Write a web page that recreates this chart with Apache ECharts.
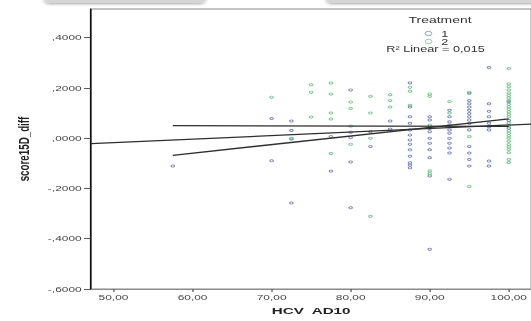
<!DOCTYPE html>
<html>
<head>
<meta charset="utf-8">
<script src="https://cdn.jsdelivr.net/npm/echarts@6/dist/echarts.min.js"></script>
<style>
html,body{margin:0;padding:0;background:#fff;width:531px;height:321px;overflow:hidden;}
#chart{width:342.6px;height:321px;transform:scaleX(1.55);transform-origin:0 0;}
</style>
</head>
<body>
<div id="chart"></div>
<script>
// ---- data ----
const xTicks = [50, 60, 70, 80, 90, 100];
const xTickLabels = ['50,00', '60,00', '70,00', '80,00', '90,00', '100,00'];
const yTicks = [-0.6, -0.4, -0.2, 0, 0.2, 0.4];
const yTickLabels = ['-,6000', '-,4000', '-,2000', ',0000', ',2000', ',4000'];

const group1X = [57.5, 70, 70, 72.5, 72.5, 72.5, 72.5, 77.5, 77.5, 80, 80, 80, 80, 80, 82.5, 82.5, 85, 85,
  87.5, 87.5, 87.5, 87.5, 87.5, 87.5, 87.5, 87.5, 87.5, 87.5, 87.5, 87.5, 87.5,
  90, 90, 90, 90, 90, 90, 90, 90, 90, 90,
  92.5, 92.5, 92.5, 92.5, 92.5, 92.5, 92.5, 92.5, 92.5, 92.5, 92.5,
  95, 95, 95, 95, 95, 95, 95, 95, 95, 95, 95, 95, 95, 95,
  97.5, 97.5, 97.5, 97.5, 97.5, 97.5, 97.5, 97.5, 97.5,
  100, 100, 100];
const group1Y = [-0.111, 0.078, -0.090, 0.068, 0.031, -0.003, -0.258, 0.007, -0.131, 0.192, 0.024, 0.003, -0.095, -0.277, 0.026, -0.033, 0.068, 0.036,
  0.22, 0.124, 0.085, 0.059, 0.033, 0.013, -0.007, -0.024, -0.046, -0.072, -0.098, -0.107, -0.118,
  0.085, 0.072, 0.039, 0.026, 0.0, -0.02, -0.046, -0.078, -0.15, -0.442,
  0.111, 0.085, 0.065, 0.052, 0.033, 0.02, 0.0, -0.02, -0.039, -0.059, -0.163,
  0.179, 0.15, 0.137, 0.124, 0.111, 0.098, 0.085, 0.072, 0.059, 0.033, -0.033, -0.059, -0.085, -0.111,
  0.281, 0.137, 0.107, 0.085, 0.059, 0.046, 0.033, -0.091, -0.111,
  0.145, 0.07, 0.04];

const group2X = [70, 72.5, 75, 75, 75, 77.5, 77.5, 77.5, 77.5, 77.5, 80, 80, 80, 80, 82.5, 82.5, 82.5, 82.5,
  85, 85, 85, 87.5, 87.5, 87.5, 90, 90, 90, 90, 90, 92.5, 92.5, 95, 95, 95,
  100, 100, 100, 100, 100, 100, 100, 100, 100, 100, 100, 100, 100, 100, 100, 100, 100, 100, 100, 100, 100, 100, 100, 100, 100, 100, 100];
const group2Y = [0.163, 0.0, 0.213, 0.183, 0.084, 0.22, 0.176, 0.10, 0.076, -0.061, 0.144, 0.118, 0.048, -0.024, 0.167, 0.10, 0.0, -0.311,
  0.173, 0.15, 0.124, 0.203, 0.187, 0.131, 0.176, 0.167, 0.052, -0.13, -0.141, 0.146, 0.10, 0.183, 0.007, -0.192,
  0.277, 0.216, 0.205, 0.192, 0.18, 0.17, 0.16, 0.15, 0.135, 0.125, 0.115, 0.105, 0.095, 0.085, 0.06, 0.05, 0.03, 0.02, 0.01, 0.0, -0.012, -0.025, -0.035, -0.045, -0.058, -0.085, -0.097];

// fit lines (end points)
const fitTotalX = [47.15, 102.85];
const fitTotalY = [-0.022, 0.0564];
const fitAX = [57.5, 100];
const fitAY = [0.05, 0.047];
const fitBX = [57.5, 100];
const fitBY = [-0.068, 0.077];

const seriesNames = ['1', '2'];
const legendTitle = 'Treatment';
const r2Text = 'R\u00b2 Linear = 0,015';
const xName = 'HCV  AD10';
const yName = 'score15D_diff';

// ---- build ----
const zip = (xs, ys) => xs.map((x, i) => [x, ys[i]]);
const lbl = (ticks, labels) => v => { const i = ticks.findIndex(t => Math.abs(t - v) < 1e-9); return i >= 0 ? labels[i] : ''; };
const blue = '#5565b0', green = '#4cba6c';
const ellipse = 'path://M0,5A5,5,0,1,1,10,5A5,5,0,1,1,0,5Z';
const font = 'Liberation Sans, Arial, sans-serif';

const chart = echarts.init(document.getElementById('chart'), null, {renderer: 'svg'});
const scatterStyle = c => ({color: 'transparent', borderColor: c, borderWidth: 0.75});
const lineSeries = (xs, ys) => ({
  type: 'line', data: zip(xs, ys), symbol: 'none', silent: true,
  lineStyle: {color: '#2e2e2e', width: 1.3}, z: 5, clip: true
});

chart.setOption({
  animation: false,
  backgroundColor: '#fff',
  grid: {left: 58.7, top: 9, width: 291, height: 284, show: true, borderColor: '#8a8a8a', borderWidth: 1},
  xAxis: {
    type: 'value', min: 47.15, max: 102.85,
    name: xName, nameLocation: 'middle', nameGap: 17,
    nameTextStyle: {fontFamily: font, fontWeight: 'bold', fontSize: 9.8, color: '#222'},
    axisLine: {show: true, onZero: false, lineStyle: {color: '#8a8a8a', width: 1}},
    axisTick: {show: true, inside: false, length: 3, customValues: xTicks, lineStyle: {color: '#555', width: 0.8}},
    axisLabel: {customValues: xTicks, formatter: lbl(xTicks, xTickLabels), margin: 4,
      fontFamily: font, fontSize: 7.7, color: '#444'},
    splitLine: {show: false}
  },
  yAxis: {
    type: 'value', min: -0.6, max: 0.514,
    name: yName, nameLocation: 'middle', nameGap: 37,
    nameTextStyle: {fontFamily: font, fontWeight: 'bold', fontSize: 9.8, color: '#222'},
    axisLine: {show: true, onZero: false, lineStyle: {color: '#111', width: 1}},
    axisTick: {show: true, inside: false, length: 4.5, customValues: yTicks, lineStyle: {color: '#333', width: 0.8}},
    axisLabel: {customValues: yTicks, formatter: lbl(yTicks, yTickLabels), margin: 6,
      fontFamily: font, fontSize: 7.7, color: '#444'},
    splitLine: {show: false}
  },
  legend: {
    orient: 'vertical', left: 274, top: 29.5, padding: 0, itemGap: 0,
    itemWidth: 6.5, itemHeight: 4.3, icon: ellipse,
    itemStyle: {color: 'transparent', borderWidth: 0.6},
    textStyle: {fontFamily: font, fontSize: 8.2, color: '#333', lineHeight: 7.3},
    data: seriesNames
  },
  graphic: [
    {type: 'rect', shape: {x: 29, y: -6, width: 103, height: 9, r: 3},
      style: {fill: '#d6d6d6', shadowBlur: 3, shadowColor: 'rgba(0,0,0,0.35)', shadowOffsetY: 1}},
    {type: 'rect', shape: {x: 211, y: -6, width: 140, height: 9, r: 3},
      style: {fill: '#d6d6d6', shadowBlur: 3, shadowColor: 'rgba(0,0,0,0.35)', shadowOffsetY: 1}},
    {type: 'text', x: 283.9, y: 20, style: {text: legendTitle, align: 'center', verticalAlign: 'middle',
      fontFamily: font, fontSize: 9, fill: '#333'}},
    {type: 'text', x: 281, y: 49.3, style: {text: r2Text, align: 'center', verticalAlign: 'middle',
      fontFamily: font, fontSize: 8.2, fill: '#333'}}
  ],
  series: [
    {name: seriesNames[0], type: 'scatter', data: zip(group1X, group1Y), symbol: 'circle', symbolSize: 2.2,
      itemStyle: scatterStyle(blue), z: 3},
    {name: seriesNames[1], type: 'scatter', data: zip(group2X, group2Y), symbol: 'circle', symbolSize: 2.2,
      itemStyle: scatterStyle(green), z: 3},
    lineSeries(fitTotalX, fitTotalY),
    lineSeries(fitAX, fitAY),
    lineSeries(fitBX, fitBY)
  ]
});
</script>
</body>
</html>
